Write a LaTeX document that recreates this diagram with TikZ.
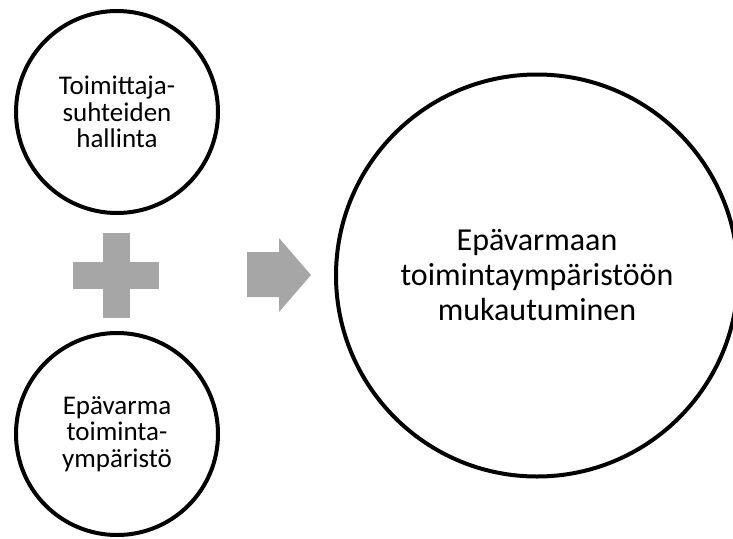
\documentclass[tikz,border=0pt]{standalone}
\usepackage{fontspec}
\setmainfont{Carlito}
\usepackage{tikz}
\usetikzlibrary{positioning}
\definecolor{plusGray}{HTML}{A6A6A6}

\begin{document}
\begin{tikzpicture}[
  x=1pt, y=-1pt,
  ring/.style={circle, draw=black, line width=4pt, fill=white, inner sep=0pt,
    align=center, minimum size=202pt, font=\fontsize{27}{26.5}\selectfont},
  bigring/.style={ring, minimum size=402pt, font=\fontsize{32}{35}\selectfont},
  shade/.style={fill=plusGray, draw=none},
]
\useasboundingbox (0,0) rectangle (733,538);
\clip (0,0) rectangle (733,538);
\node[ring] (supp) at (117,112) {Toimittaja-\\suhteiden\\hallinta};
\node[ring] (env) at (117,434) {Epävarma\\toiminta-\\ympäristö};
\node[bigring] (adapt) at (537,275.5) {Epävarmaan\\toimintaympäristöön\\mukautuminen};
% plus sign
\fill[shade] (73,262) rectangle (159,289);
\fill[shade] (103,233) rectangle (130,318);
% arrow
\fill[shade] (247,252) -- (279,252) -- (279,238) -- (311,275)
  -- (279,312) -- (279,297) -- (247,297) -- cycle;
\end{tikzpicture}
\end{document}
